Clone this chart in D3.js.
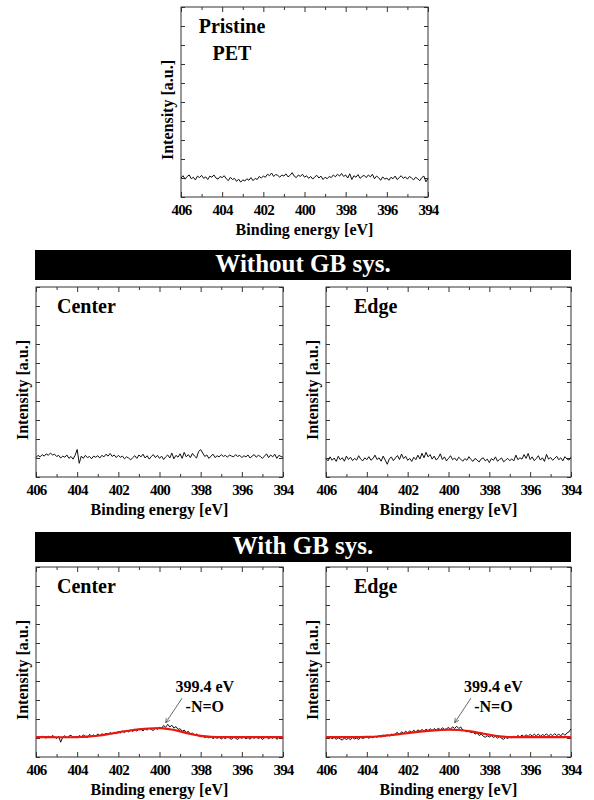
<!DOCTYPE html>
<html>
<head>
<meta charset="utf-8">
<script src="https://cdn.jsdelivr.net/npm/d3@7"></script>
<style>
  body { margin: 0; background: #fff; }
</style>
</head>
<body>
<svg id="fig" width="594" height="800"></svg>
<script>
const FONT = '"Times New Roman", "Liberation Serif", Times, "DejaVu Serif", serif';

// sampling grid of the spectra (0.1 eV step, 406 -> 394)
const energy = d3.range(121).map(i => +(406 - i * 0.1).toFixed(1));
const xTicks = [406, 404, 402, 400, 398, 396, 394];
const xMinor = [405, 403, 401, 399, 397, 395];

const pristine = [
  1.00,1.12,0.94,1.08,1.16,0.96,1.04,0.90,1.10,1.02,1.14,
  0.98,1.06,0.92,1.10,1.04,1.16,1.00,0.94,1.08,1.02,
  1.12,0.96,0.86,1.04,0.92,0.98,0.82,0.94,0.78,0.90,
  0.84,0.96,0.88,1.02,0.86,0.98,0.92,1.08,1.00,1.10,
  1.04,1.20,1.12,1.26,1.08,1.18,1.14,1.04,1.16,1.10,
  1.22,1.06,1.14,1.28,1.10,1.02,1.16,1.08,1.20,1.04,
  1.12,0.98,1.08,0.94,1.06,1.14,1.00,1.10,0.92,1.04,
  0.96,1.08,1.02,1.16,1.06,1.20,1.10,1.24,1.08,1.16,
  1.00,1.22,0.92,1.12,1.04,1.18,0.98,1.08,1.14,1.02,
  1.16,1.06,1.20,0.96,1.10,1.02,0.88,1.06,0.94,1.00,
  0.88,1.04,0.96,1.10,0.92,1.02,1.12,0.98,1.06,0.94,
  1.08,1.00,0.90,1.04,0.96,0.86,1.02,1.10,0.80,0.98
];

const withoutCenter = [
  1.02,1.14,1.06,1.18,1.10,1.22,1.14,1.26,1.16,1.20,1.08,
  1.14,1.00,1.10,1.04,1.16,0.98,1.08,0.94,1.14,1.45,
  0.72,1.10,0.98,1.14,1.02,1.08,0.96,1.10,1.04,1.12,
  1.00,1.14,1.06,1.20,1.10,1.24,1.08,1.16,1.02,1.14,
  1.04,1.10,0.96,1.06,1.00,0.90,1.02,1.12,0.98,1.16,
  1.06,1.20,1.00,1.12,0.94,1.08,1.18,1.02,1.14,0.98,
  1.10,0.92,1.06,1.16,1.00,1.26,0.96,1.14,1.04,1.22,
  0.98,1.30,1.06,1.18,1.02,1.24,1.10,1.00,1.34,1.44,
  1.26,1.08,1.16,0.98,1.10,1.20,1.02,1.12,1.06,1.18,
  1.08,1.14,1.04,1.16,1.10,1.06,1.18,1.08,1.14,1.02,
  1.12,1.06,1.16,1.00,1.10,1.18,1.04,1.14,1.08,0.98,
  1.10,1.22,1.02,1.16,1.06,1.20,0.98,1.14,1.08,1.04
];

const withoutEdge = [
  0.97,0.85,1.06,0.88,1.00,0.82,1.09,0.91,1.01,0.83,1.10,
  0.92,1.04,0.86,0.98,0.89,1.12,0.94,0.85,1.01,0.91,
  1.07,0.88,0.97,1.15,0.92,1.01,0.83,1.10,0.89,0.67,
  0.95,1.06,0.86,1.00,1.13,0.92,1.21,0.97,1.09,0.88,
  0.98,0.82,1.04,0.91,1.15,0.95,1.25,1.01,1.30,1.06,
  1.18,0.94,1.10,0.89,1.01,1.22,0.92,1.06,0.85,0.98,
  1.12,0.91,1.00,0.86,1.04,0.94,0.83,0.97,0.88,1.07,
  0.92,0.82,0.98,0.89,0.79,0.95,1.01,0.85,0.94,0.76,
  0.97,0.88,1.06,0.83,0.92,1.00,0.80,0.89,0.98,0.86,
  0.95,0.85,1.15,0.91,1.01,0.94,1.18,0.98,1.24,0.92,
  1.06,0.86,0.97,1.12,0.89,1.01,0.82,1.19,0.94,1.03,
  0.88,0.98,1.09,0.91,1.01,0.85,1.07,0.95,0.89,1.04
];

const withCenter = [
  1.03,1.08,1.01,1.09,1.05,0.99,1.10,1.03,1.13,1.06,0.97,
  1.09,0.78,1.05,1.12,1.01,1.10,1.15,1.03,1.09,1.00,
  1.13,1.06,1.16,1.09,1.02,1.19,1.10,1.17,1.07,1.22,
  1.11,1.23,1.15,1.25,1.18,1.29,1.20,1.31,1.23,1.35,
  1.27,1.36,1.28,1.40,1.31,1.43,1.34,1.45,1.36,1.47,
  1.46,1.37,1.50,1.41,1.52,1.45,1.39,1.53,1.46,1.56,
  1.50,1.66,1.56,1.72,1.58,1.67,1.52,1.60,1.45,1.49,
  1.35,1.42,1.29,1.35,1.21,1.27,1.15,1.21,1.11,1.07,
  1.12,1.02,1.08,1.00,1.07,0.96,1.05,0.98,1.07,0.94,
  1.04,0.96,1.08,1.00,0.93,1.05,0.99,0.92,1.04,0.98,
  1.07,0.95,1.03,0.93,1.05,0.98,1.08,0.96,1.04,0.92,
  1.01,1.07,0.95,1.04,0.98,1.08,0.93,1.03,1.09,1.00
];

const withEdge = [
  1.04,0.99,1.05,0.96,1.03,0.93,1.01,0.95,0.89,1.00,0.92,
  0.99,0.91,1.03,0.95,1.00,0.92,1.05,0.97,1.02,1.06,
  0.98,1.07,1.00,1.10,1.03,1.12,1.05,1.15,1.09,1.18,
  1.10,1.20,1.14,1.23,1.30,1.18,1.33,1.24,1.36,1.27,
  1.38,1.29,1.41,1.31,1.43,1.35,1.45,1.35,1.47,1.38,
  1.49,1.39,1.50,1.41,1.52,1.43,1.54,1.45,1.48,1.56,
  1.46,1.59,1.50,1.62,1.50,1.58,1.41,1.39,1.32,1.38,
  1.27,1.33,1.20,1.27,1.13,1.20,1.10,1.04,1.12,1.05,
  1.12,1.03,1.09,0.99,1.08,0.98,0.93,1.04,0.97,1.08,
  1.01,1.10,1.04,1.13,1.06,1.16,1.07,1.17,1.09,1.19,
  1.10,1.20,1.11,1.21,1.09,1.18,1.13,1.22,1.10,1.20,
  1.12,1.23,1.13,1.20,1.11,1.25,1.14,1.26,1.32,1.48
];

// fitted N1s component (red)
const fitEnergy = [406,405.5,405,404.5,404,403.5,403,402.5,402,401.5,401,400.5,400,
                   399.5,399,398.5,398,397.5,397,396.5,396,395.5,395,394.5,394];
const fitCenter = [1.05,1.05,1.04,1.04,1.05,1.07,1.12,1.20,1.30,1.38,1.45,1.50,1.52,
                   1.46,1.35,1.21,1.11,1.06,1.05,1.05,1.05,1.05,1.05,1.05,1.05];
const fitEdge = [1.05,1.05,1.05,1.05,1.06,1.08,1.13,1.19,1.26,1.32,1.37,1.41,1.44,
                 1.42,1.36,1.27,1.17,1.09,1.05,1.05,1.05,1.05,1.05,1.05,1.05];

const banners = ['Without GB sys.', 'With GB sys.'];

const svg = d3.select('#fig').style('font-family', FONT);
svg.append('rect').attr('width', 594).attr('height', 800).attr('fill', '#fff');

svg.append('defs').append('marker')
  .attr('id', 'arrow')
  .attr('viewBox', '0 0 10 10')
  .attr('refX', 9).attr('refY', 5)
  .attr('markerWidth', 7).attr('markerHeight', 7)
  .attr('orient', 'auto')
  .append('path')
  .attr('d', 'M1,1 L9,5 L1,9')
  .attr('fill', 'none')
  .attr('stroke', '#444')
  .attr('stroke-width', 1.2);

function label(sel, size) {
  return sel.style('font-family', FONT).style('font-weight', 'bold').style('font-size', size);
}

function drawPanel(p) {
  const w = p.w, h = p.h;
  const g = svg.append('g').attr('transform', `translate(${p.x},${p.y})`);
  const x = d3.scaleLinear().domain([406, 394]).range([0, w]);
  const y = d3.scaleLinear().domain([0, 10]).range([h, 0]);

  // major + minor ticks, inward, on all four sides
  g.append('g').attr('transform', `translate(0,${h})`)
    .call(d3.axisBottom(x).tickValues(xMinor).tickSize(-3).tickFormat(''));
  g.append('g')
    .call(d3.axisTop(x).tickValues(xMinor).tickSize(-3).tickFormat(''));
  g.append('g')
    .call(d3.axisTop(x).tickValues(xTicks).tickSize(-5).tickFormat(''));
  const xb = g.append('g').attr('transform', `translate(0,${h})`)
    .call(d3.axisBottom(x).tickValues(xTicks).tickSize(-5).tickPadding(7).tickFormat(d3.format('d')));
  label(xb.selectAll('text'), '15px')
    .attr('fill', '#000')
    .style('letter-spacing', '-0.8px');
  g.append('g')
    .call(d3.axisLeft(y).ticks(10).tickSize(-4).tickFormat(''));
  g.append('g').attr('transform', `translate(${w},0)`)
    .call(d3.axisRight(y).ticks(10).tickSize(-4).tickFormat(''));
  g.selectAll('.domain').remove();
  g.selectAll('.tick line').attr('stroke', '#333');

  g.append('rect')
    .attr('width', w).attr('height', h)
    .attr('fill', 'none').attr('stroke', '#333').attr('stroke-width', 1);

  const line = d3.line().x(d => x(d[0])).y(d => y(d[1]));
  g.append('path')
    .datum(d3.zip(energy, p.data))
    .attr('d', line)
    .attr('fill', 'none').attr('stroke', '#111').attr('stroke-width', 1);

  if (p.fit) {
    g.append('path')
      .datum(d3.zip(fitEnergy, p.fit))
      .attr('d', line.curve(d3.curveMonotoneX))
      .attr('fill', 'none').attr('stroke', '#e8170f').attr('stroke-width', 2.2);

    g.append('line')
      .attr('x1', x(398.9)).attr('y1', y(3.1))
      .attr('x2', x(399.7)).attr('y2', y(1.8))
      .attr('stroke', '#444').attr('stroke-width', 0.8)
      .attr('marker-end', 'url(#arrow)');
    label(g.append('text'), '16px')
      .attr('x', x(397.8)).attr('y', y(3.42))
      .attr('text-anchor', 'middle')
      .text('399.4 eV');
    label(g.append('text'), '16px')
      .attr('x', x(397.8)).attr('y', y(2.37))
      .attr('text-anchor', 'middle')
      .text('-N=O');
  }

  // panel label
  const lab = label(g.append('text'), '20px')
    .attr('x', p.labelX).attr('y', 26)
    .attr('text-anchor', p.anchor || 'start');
  p.label.forEach((t, i) => {
    lab.append('tspan').attr('x', p.labelX).attr('dy', i === 0 ? 0 : 27).text(t);
  });

  label(g.append('text'), '16px')
    .attr('transform', `translate(-8,${h / 2 + 8}) rotate(-90)`)
    .attr('text-anchor', 'middle')
    .text('Intensity [a.u.]');

  label(g.append('text'), '16px')
    .attr('x', w / 2).attr('y', h + 38)
    .attr('text-anchor', 'middle')
    .text('Binding energy [eV]');
}

function drawBanner(text, top) {
  svg.append('rect')
    .attr('x', 35).attr('y', top).attr('width', 536).attr('height', 30)
    .attr('fill', '#000');
  label(svg.append('text'), '25px')
    .attr('x', 303).attr('y', top + 22)
    .attr('text-anchor', 'middle')
    .attr('fill', '#fff')
    .text(text);
}

drawPanel({ x: 181, y: 7, w: 247, h: 190, data: pristine,
            label: ['Pristine', 'PET'], labelX: 51, anchor: 'middle' });

drawBanner(banners[0], 250);
drawPanel({ x: 36, y: 287, w: 247, h: 190, data: withoutCenter, label: ['Center'], labelX: 21 });
drawPanel({ x: 326, y: 287, w: 245, h: 190, data: withoutEdge, label: ['Edge'], labelX: 28 });

drawBanner(banners[1], 532);
drawPanel({ x: 36, y: 567, w: 247, h: 190, data: withCenter, fit: fitCenter, label: ['Center'], labelX: 21 });
drawPanel({ x: 326, y: 567, w: 245, h: 190, data: withEdge, fit: fitEdge, label: ['Edge'], labelX: 28 });
</script>
</body>
</html>
